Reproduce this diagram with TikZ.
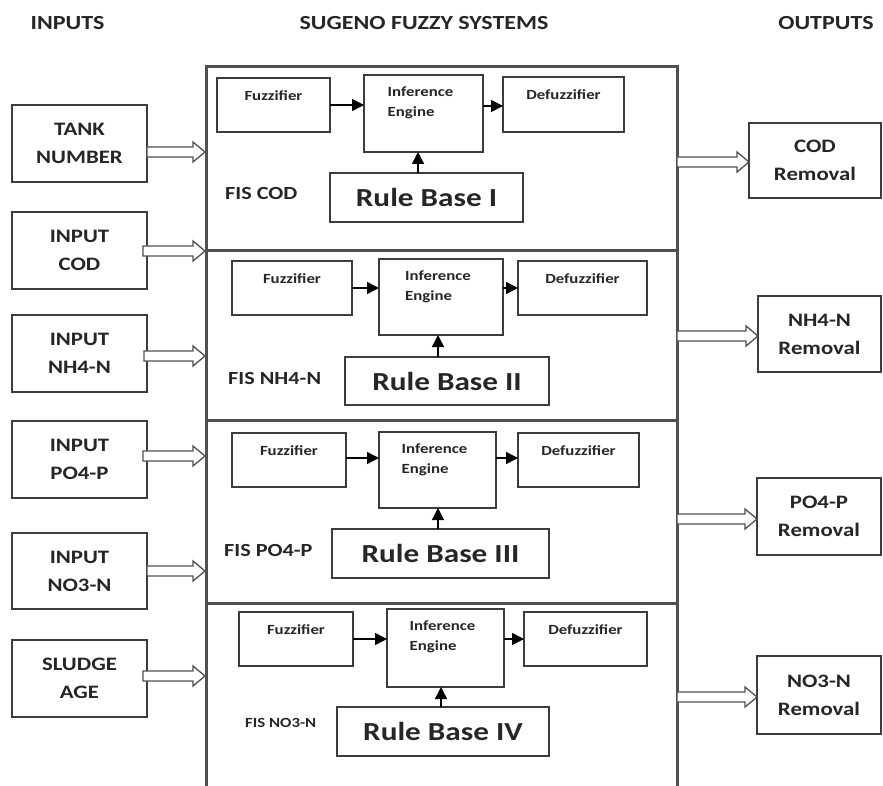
\documentclass[tikz,border=0pt]{standalone}
\usepackage{fontspec}
\setmainfont{Carlito}[FakeStretch=1.2]
\usetikzlibrary{arrows.meta,calc}
\definecolor{ink}{HTML}{262626}
\definecolor{edge}{HTML}{3C3C3C}
\definecolor{frameg}{HTML}{505050}
\tikzset{
  box/.style={draw=edge, line width=1.6pt, rectangle, inner sep=0pt, outer sep=0pt, fill=white},
  sect/.style={draw=frameg, line width=3pt, rectangle, inner sep=0pt, outer sep=0pt, minimum width=471pt},
  io/.style={box, text=ink, align=center, font=\bfseries\fontsize{19}{28}\selectfont},
  rule/.style={box, text=ink, font=\bfseries\fontsize{26}{30}\selectfont},
  small/.style={text=ink, inner sep=0pt, font=\bfseries\fontsize{14}{20}\selectfont},
  head/.style={text=ink, inner sep=0pt, font=\bfseries\fontsize{20}{24}\selectfont},
  fis/.style={text=ink, inner sep=0pt, anchor=west, font=\bfseries\fontsize{18.5}{22}\selectfont},
  toplbl/.style={label={[small, anchor=north, yshift=-12pt]north:#1}},
  arr/.style={draw=black, line width=1.5pt, -{Triangle[length=12pt,width=12pt]}},
  blockarrow/.style={draw=frameg, fill=white, line width=1.3pt,
    to path={let \p1=(\tikztostart), \p2=(\tikztotarget) in
      (\x1,\y1+5pt) -- (\x2-12pt,\y1+5pt) -- (\x2-12pt,\y1+10pt) -- (\x2,\y1)
      -- (\x2-12pt,\y1-10pt) -- (\x2-12pt,\y1-5pt) -- (\x1,\y1-5pt) -- cycle}}
}
\begin{document}
\begin{tikzpicture}[x=1pt,y=-1pt]
\useasboundingbox (0,0) rectangle (883,786);
% headers
\node[head] (hin) at (67.5,23) {INPUTS};
\node[head] (hsys) at (424,23) {SUGENO FUZZY SYSTEMS};
\node[head] (hout) at (826,23) {OUTPUTS};
% input boxes
\node[io, minimum width=135pt, minimum height=77pt] (tank) at (79.5,143.5) {TANK\\NUMBER};
\node[io, minimum width=135pt, minimum height=77pt] (icod) at (79.5,250.5) {INPUT\\COD};
\node[io, minimum width=135pt, minimum height=77pt] (inh) at (79.5,353.5) {INPUT\\NH4-N};
\node[io, minimum width=135pt, minimum height=77pt] (ipo) at (79.5,459.5) {INPUT\\PO4-P};
\node[io, minimum width=135pt, minimum height=76pt] (ino) at (79.5,571) {INPUT\\NO3-N};
\node[io, minimum width=135pt, minimum height=77pt] (isl) at (79.5,678.5) {SLUDGE\\AGE};
% output boxes
\node[io, minimum width=132pt, minimum height=75pt] (codout) at (815,160.5) {COD\\Removal};
\node[io, minimum width=123pt, minimum height=76pt] (nhout) at (819.5,334) {NH4-N\\Removal};
\node[io, minimum width=124pt, minimum height=77pt] (poout) at (819,516.5) {PO4-P\\Removal};
\node[io, minimum width=124pt, minimum height=78pt] (noout) at (819,695) {NO3-N\\Removal};
% block arrows (inputs)
\draw[blockarrow] ([yshift=-8.5pt]tank.east) to (205,0);
\draw[blockarrow] ([xshift=-4pt,yshift=-0.5pt]icod.east) to (205,0);
\draw[blockarrow] ([xshift=-3pt,yshift=-2.5pt]inh.east) to (205,0);
\draw[blockarrow] ([xshift=-4pt,yshift=3.5pt]ipo.east) to (205,0);
\draw[blockarrow] (ino.east) to (205,0);
\draw[blockarrow] ([xshift=-4pt,yshift=2.5pt]isl.east) to (205,0);
% sections
\node[sect, minimum height=184pt] (sec1) at (441.5,159) {};
\node[sect, minimum height=169pt] (sec2) at (441.5,335.5) {};
\node[sect, minimum height=183pt] (sec3) at (441.5,511.5) {};
\node[sect, minimum height=197pt] (sec4) at (441.5,701.5) {};
% block arrows (outputs)
\draw[blockarrow] ([yshift=-1.5pt]codout.west -| sec1.east) to (codout.west);
\draw[blockarrow] ([yshift=-2pt]nhout.west -| sec2.east) to (nhout.west);
\draw[blockarrow] ([yshift=-2.5pt]poout.west -| sec3.east) to (poout.west);
\draw[blockarrow] ([yshift=-2pt]noout.west -| sec4.east) to (noout.west);
% ---- section 1
\node[box, minimum width=113pt, minimum height=54pt, toplbl=Fuzzifier] (f1) at (273.5,105) {};
\node[box, minimum width=119pt, minimum height=77pt,
  label={[small, anchor=north, align=left, yshift=-12pt, xshift=-3pt]north:Inference\\Engine}] (i1) at (423.5,113.5) {};
\node[box, minimum width=121pt, minimum height=55pt, toplbl=Defuzzifier] (d1) at (563.5,104.5) {};
\node[rule, minimum width=193pt, minimum height=49pt] (r1) at (426.5,197.5) {Rule Base I};
\node[fis] (fis1) at (225,193) {FIS COD};
\draw[arr] (f1.east) -- (f1.east -| i1.west);
\draw[arr] ([yshift=-1.5pt]d1.west -| i1.east) -- ([yshift=-1.5pt]d1.west);
\draw[arr] ([xshift=-8.5pt]r1.north) -- ([xshift=-8.5pt]r1.north |- i1.south);
% ---- section 2
\node[box, minimum width=120pt, minimum height=54pt, toplbl=Fuzzifier] (f2) at (292,288) {};
\node[box, minimum width=124pt, minimum height=76pt,
  label={[small, anchor=north, align=left, yshift=-12pt, xshift=-3pt]north:Inference\\Engine}] (i2) at (441,297) {};
\node[box, minimum width=129pt, minimum height=54pt, toplbl=Defuzzifier] (d2) at (582.5,288) {};
\node[rule, minimum width=204pt, minimum height=48pt] (r2) at (447,381) {Rule Base II};
\node[fis] (fis2) at (228,378) {FIS NH4-N};
\draw[arr] (f2.east) -- (f2.east -| i2.west);
\draw[arr] (d2.west -| i2.east) -- (d2.west);
\draw[arr] ([xshift=-9pt]r2.north) -- ([xshift=-9pt]r2.north |- i2.south);
% ---- section 3
\node[box, minimum width=114pt, minimum height=54pt, toplbl=Fuzzifier] (f3) at (289,460) {};
\node[box, minimum width=117pt, minimum height=76pt,
  label={[small, anchor=north, align=left, yshift=-12pt, xshift=-3pt]north:Inference\\Engine}] (i3) at (437.5,470) {};
\node[box, minimum width=121pt, minimum height=54pt, toplbl=Defuzzifier] (d3) at (578.5,460) {};
\node[rule, minimum width=217pt, minimum height=49pt] (r3) at (440.5,553.5) {Rule Base III};
\node[fis] (fis3) at (224,550) {FIS PO4-P};
\draw[arr] ([yshift=2pt]f3.east) -- ([yshift=2pt]f3.east -| i3.west);
\draw[arr] ([yshift=2pt]d3.west -| i3.east) -- ([yshift=2pt]d3.west);
\draw[arr] ([xshift=-2.5pt]r3.north) -- ([xshift=-2.5pt]r3.north |- i3.south);
% ---- section 4
\node[box, minimum width=114pt, minimum height=54pt, toplbl=Fuzzifier] (f4) at (296,639) {};
\node[box, minimum width=117pt, minimum height=78pt,
  label={[small, anchor=north, align=left, yshift=-12pt, xshift=-3pt]north:Inference\\Engine}] (i4) at (445.5,648) {};
\node[box, minimum width=123pt, minimum height=54pt, toplbl=Defuzzifier] (d4) at (585.5,639) {};
\node[rule, minimum width=212pt, minimum height=49pt] (r4) at (443,731.5) {Rule Base IV};
\node[fis, font=\bfseries\fontsize{14}{18}\selectfont] (fis4) at (245,723) {FIS NO3-N};
\draw[arr] (f4.east) -- (f4.east -| i4.west);
\draw[arr] (d4.west -| i4.east) -- (d4.west);
\draw[arr] ([xshift=-2pt]r4.north) -- ([xshift=-2pt]r4.north |- i4.south);
\end{tikzpicture}
\end{document}
